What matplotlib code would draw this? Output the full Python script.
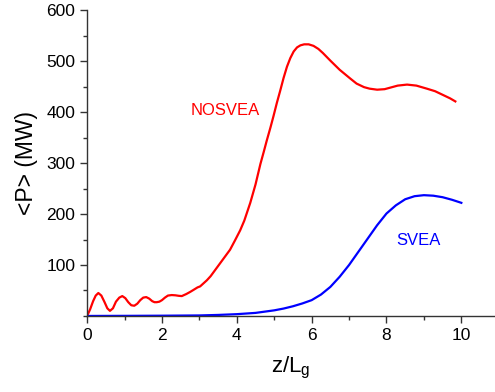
import matplotlib
matplotlib.use('Agg')
import matplotlib.pyplot as plt
from matplotlib.ticker import MultipleLocator

plt.rcParams['font.family'] = ['Liberation Sans', 'DejaVu Sans']

# NOSVEA curve
z_nosvea = [0, 0.08, 0.16, 0.23, 0.30, 0.38, 0.46, 0.54, 0.61, 0.69, 0.77, 0.86,
            0.94, 1.02, 1.10, 1.18, 1.26, 1.34, 1.42, 1.50, 1.58, 1.66, 1.74,
            1.80, 1.86, 1.93, 2.0, 2.08, 2.16, 2.26, 2.36, 2.45, 2.53, 2.65,
            2.75, 2.84, 2.95, 3.02, 3.11, 3.2, 3.3, 3.38, 3.47, 3.6, 3.7, 3.82,
            3.95, 4.09, 4.2, 4.36, 4.5, 4.63, 4.72, 4.80, 4.9, 4.98, 5.07, 5.16,
            5.25, 5.34, 5.43, 5.52, 5.61, 5.70, 5.8, 5.92, 6.05, 6.18, 6.3, 6.5,
            6.75, 7.03, 7.2, 7.4, 7.55, 7.75, 7.95, 8.1, 8.3, 8.55, 8.8, 9.08,
            9.3, 9.5, 9.7, 9.84]
p_nosvea = [0, 13, 29, 40, 45, 40, 28, 15, 10, 15, 28, 36,
            39, 35, 27, 21, 20, 24, 31, 36, 37, 34, 29,
            27, 27, 28, 31, 36, 40, 41, 40.5, 39.5, 39, 43,
            47, 51, 56, 58, 64, 70, 78, 86, 95, 108, 118, 130,
            148, 168, 187, 222, 258, 298, 322, 344, 370, 392, 418, 442,
            467, 489, 506, 519, 527, 531, 533, 533, 530, 524, 516, 501,
            483, 466, 456, 449, 446, 444, 445, 448, 452, 454, 452, 446,
            441, 434, 427, 421]

# SVEA curve
z_svea = [0, 1, 2, 3, 3.5, 4, 4.5, 5, 5.25, 5.5, 5.75, 6, 6.25, 6.5, 6.75, 7,
          7.25, 7.5, 7.75, 8, 8.25, 8.5, 8.75, 9, 9.25, 9.5, 9.75, 10]
p_svea = [0, 0.2, 0.5, 1, 2, 3.5, 6, 11, 14.5, 19, 24.5, 31, 42, 57, 77, 100,
          126, 152, 178, 201, 217, 229, 235, 237, 236, 233, 228, 222]

fig = plt.figure(figsize=(4.95, 3.92), dpi=100)
ax = fig.add_axes([0.176, 0.194, 0.824, 0.78])

ax.plot(z_nosvea, p_nosvea, color='red', lw=1.6)
ax.plot(z_svea, p_svea, color='blue', lw=1.6)

ax.text(3.69, 404, 'NOSVEA', color='red', fontsize=12, ha='center', va='center')
ax.text(8.85, 149, 'SVEA', color='blue', fontsize=12, ha='center', va='center')

ax.set_xlim(0, 10.9)
ax.set_ylim(0, 600)
ax.set_yticks([100, 200, 300, 400, 500, 600])
ax.set_xticks([0, 2, 4, 6, 8, 10])
ax.xaxis.set_minor_locator(MultipleLocator(1))
ax.yaxis.set_minor_locator(MultipleLocator(50))

for s in ['top', 'right']:
    ax.spines[s].set_visible(False)
for s in ['left', 'bottom']:
    ax.spines[s].set_color('#333333')
    ax.spines[s].set_linewidth(1.0)

ax.tick_params(which='major', direction='out', length=5, width=1,
               labelsize=12.5, colors='#333333', labelcolor='black')
ax.tick_params(which='minor', direction='out', length=3, width=1, colors='#333333')

ax.set_xlabel('z/L$_\\mathregular{g}$', fontsize=16, labelpad=9)
ax.set_ylabel('<P> (MW)', fontsize=16.5, labelpad=6)

fig.savefig('out.png', dpi=100)
